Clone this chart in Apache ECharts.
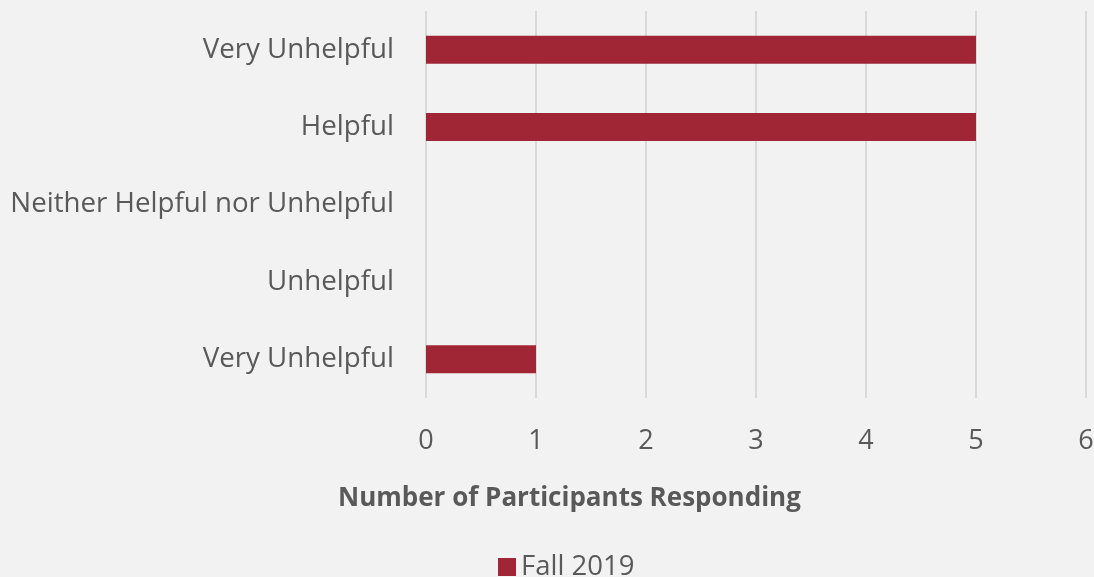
<!DOCTYPE html>
<html>
<head>
<meta charset="utf-8">
<script src="https://cdn.jsdelivr.net/npm/echarts@6/dist/echarts.min.js"></script>
<style>
  html, body { margin: 0; padding: 0; background: #f2f2f2; }
  #main { width: 1094px; height: 577px; }
</style>
</head>
<body>
<div id="main"></div>
<script>
// categories listed bottom to top (category axis draws first item at bottom)
var categories = ['Very Unhelpful', 'Unhelpful', 'Neither Helpful nor Unhelpful', 'Helpful', 'Very Unhelpful'];
var fall2019 = [1, 0, 0, 5, 5];
var seriesName = 'Fall 2019';
var axisTitle = 'Number of Participants Responding';

var chart = echarts.init(document.getElementById('main'));
var textColor = '#595959';
var font = 'Open Sans';

chart.setOption({
  backgroundColor: '#f2f2f2',
  animation: false,
  title: {
    text: axisTitle,
    left: 333,
    top: 481,
    textStyle: { fontFamily: font, fontSize: 26, fontWeight: 'bold', color: textColor }
  },
  legend: {
    data: [seriesName],
    left: 493,
    top: 548,
    itemWidth: 18,
    itemHeight: 18,
    itemGap: 8,
    icon: 'rect',
    textStyle: { fontFamily: font, fontSize: 27.5, color: textColor }
  },
  grid: { left: 426, right: 8, top: 11, bottom: 179, containLabel: false, outerBoundsMode: 'none' },
  xAxis: {
    type: 'value',
    min: 0,
    max: 6,
    interval: 1,
    axisLine: { show: false },
    axisTick: { show: false },
    axisLabel: { fontFamily: font, fontSize: 27, color: textColor, margin: 30 },
    splitLine: { lineStyle: { color: '#d9d9d9', width: 2 } }
  },
  yAxis: {
    type: 'category',
    data: categories,
    axisLine: { show: false },
    axisTick: { show: false },
    axisLabel: { fontFamily: font, fontSize: 27.7, color: textColor, margin: 32 }
  },
  series: [{
    name: seriesName,
    type: 'bar',
    data: fall2019,
    barWidth: 28,
    itemStyle: { color: '#a02636' }
  }]
});
</script>
</body>
</html>
